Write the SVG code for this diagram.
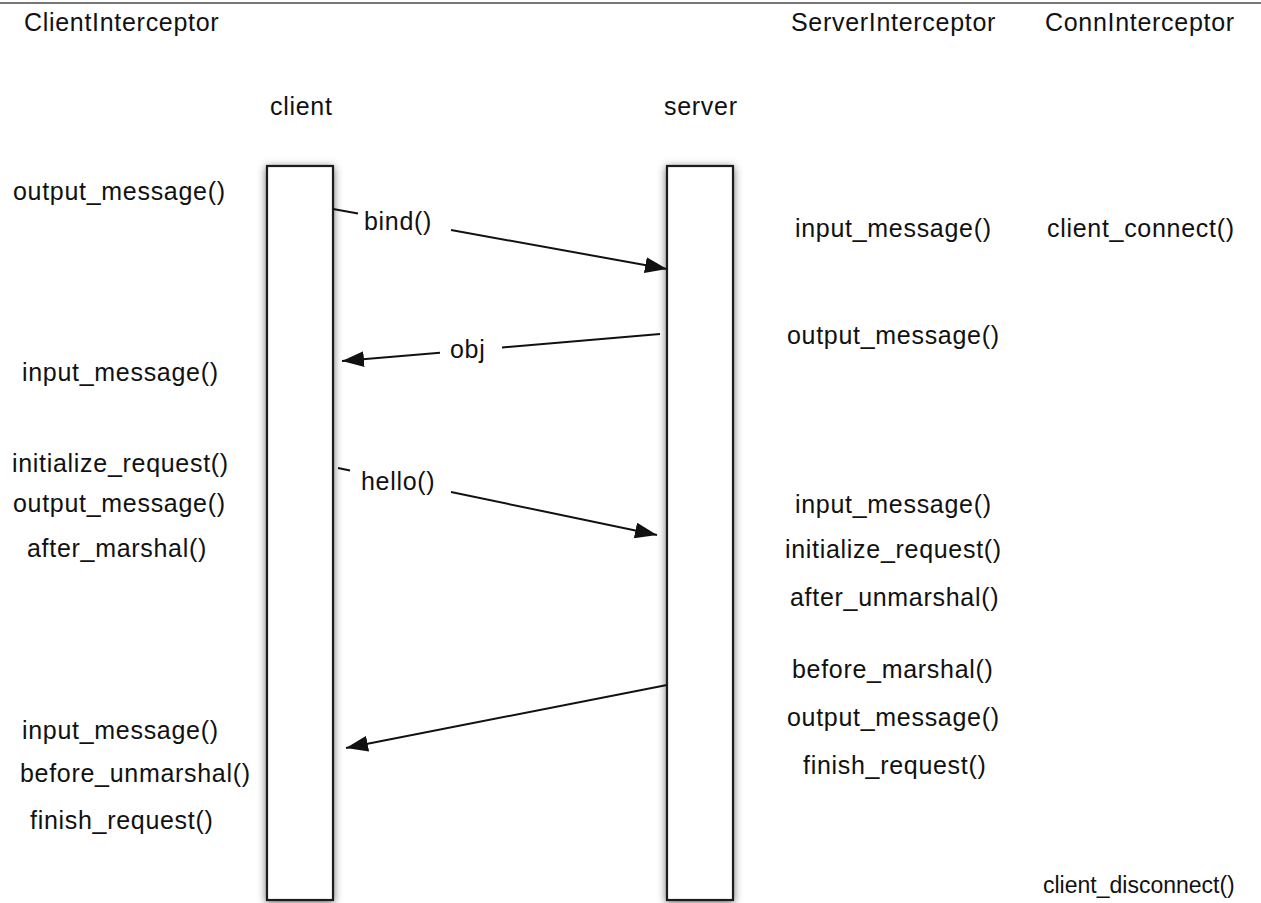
<svg xmlns="http://www.w3.org/2000/svg" width="1261" height="903" viewBox="0 0 1261 903">
  <style>
    text { font-family: "Liberation Sans", Arial, Helvetica, sans-serif; font-size: 25px; fill: #111; letter-spacing: 0.7px; }
    .box { fill: #fff; stroke: #1a1a1a; stroke-width: 2.2; }
    .msg { stroke: #111; stroke-width: 2; fill: none; }
  </style>
  <defs>
    <filter id="shadow" x="-40%" y="-5%" width="180%" height="110%">
      <feDropShadow dx="0" dy="2" stdDeviation="4.5" flood-color="#000" flood-opacity="0.55"/>
    </filter>
    <marker id="arrow" viewBox="0 0 22 16" refX="22" refY="8" markerWidth="22" markerHeight="16" markerUnits="userSpaceOnUse" orient="auto">
      <path d="M0,0 L22,8 L0,16 Z" fill="#111"/>
    </marker>
  </defs>
  <rect x="0" y="0" width="1261" height="903" fill="#fff"/>
  <line x1="0" y1="3" x2="1261" y2="3" stroke="#777" stroke-width="2"/>

  <g id="headers">
    <text x="24" y="31">ClientInterceptor</text>
    <text x="791" y="31">ServerInterceptor</text>
    <text x="1045" y="31">ConnInterceptor</text>
  </g>

  <g id="client">
    <text x="270" y="115">client</text>
    <rect class="box" x="267" y="166" width="66" height="734" filter="url(#shadow)"/>
  </g>
  <g id="server">
    <text x="664" y="115">server</text>
    <rect class="box" x="667" y="166" width="66" height="734" filter="url(#shadow)"/>
  </g>

  <g id="client-interceptor-calls">
    <text x="13" y="200">output_message()</text>
    <text x="22" y="381">input_message()</text>
    <text x="12" y="472">initialize_request()</text>
    <text x="13" y="512">output_message()</text>
    <text x="27" y="557">after_marshal()</text>
    <text x="22" y="739">input_message()</text>
    <text x="20" y="782">before_unmarshal()</text>
    <text x="30" y="829">finish_request()</text>
  </g>

  <g id="server-interceptor-calls">
    <text x="795" y="237">input_message()</text>
    <text x="787" y="344">output_message()</text>
    <text x="795" y="513">input_message()</text>
    <text x="785" y="558">initialize_request()</text>
    <text x="790" y="606">after_unmarshal()</text>
    <text x="792" y="678">before_marshal()</text>
    <text x="787" y="726">output_message()</text>
    <text x="803" y="774">finish_request()</text>
  </g>

  <g id="conn-interceptor-calls">
    <text x="1047" y="237">client_connect()</text>
    <text x="1043" y="893" style="font-size:23px;letter-spacing:0">client_disconnect()</text>
  </g>

  <g id="connectors">
    <g id="msg-bind">
      <line class="msg" x1="333" y1="209" x2="358" y2="213.5"/>
      <line class="msg" x1="451" y1="230" x2="667" y2="269" marker-end="url(#arrow)"/>
      <text x="364" y="230">bind()</text>
    </g>
    <g id="msg-obj">
      <line class="msg" x1="660" y1="334" x2="502" y2="347.5"/>
      <line class="msg" x1="440" y1="352.7" x2="342" y2="361" marker-end="url(#arrow)"/>
      <text x="450" y="358">obj</text>
    </g>
    <g id="msg-hello">
      <line class="msg" x1="338" y1="468" x2="350" y2="470.5"/>
      <line class="msg" x1="451" y1="492" x2="657" y2="535" marker-end="url(#arrow)"/>
      <text x="361" y="490">hello()</text>
    </g>
    <g id="msg-reply">
      <line class="msg" x1="667" y1="685" x2="346" y2="748" marker-end="url(#arrow)"/>
    </g>
  </g>
</svg>
